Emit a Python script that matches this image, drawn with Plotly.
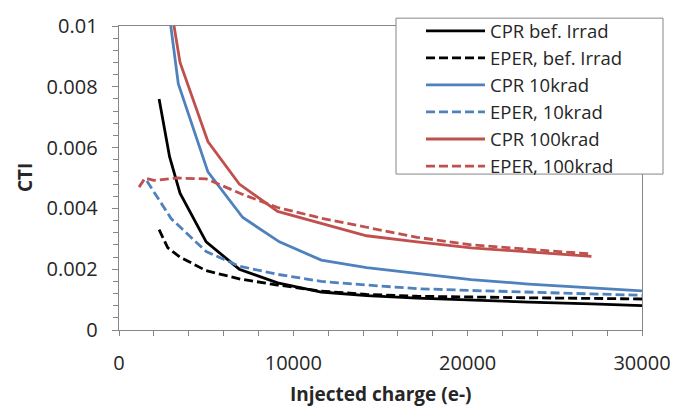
import plotly.graph_objects as go

# ---- data ----
cpr_bef_x = [2300, 2900, 3500, 5000, 6900, 9100, 11600, 14200, 17100, 20200, 23500, 27100, 30000]
cpr_bef_y = [0.0076, 0.0057, 0.0045, 0.0029, 0.0020, 0.00155, 0.00125, 0.00113, 0.00105, 0.00098, 0.00092, 0.00086, 0.00080]

eper_bef_x = [2300, 2800, 3500, 5000, 7000, 9100, 11600, 14200, 17100, 20200, 23500, 27100, 30000]
eper_bef_y = [0.0033, 0.0027, 0.0024, 0.00195, 0.00167, 0.00148, 0.00128, 0.00117, 0.00111, 0.00108, 0.00106, 0.00104, 0.00102]

cpr_10_x = [2700, 3400, 5100, 7100, 9200, 11600, 14200, 17100, 20200, 23500, 27100, 30000]
cpr_10_y = [0.0112, 0.0081, 0.0052, 0.0037, 0.0029, 0.0023, 0.00205, 0.00185, 0.00166, 0.00151, 0.00139, 0.00129]

eper_10_x = [1600, 3000, 5000, 6900, 9100, 11600, 14200, 17100, 20200, 23500, 27100, 30000]
eper_10_y = [0.0049, 0.00366, 0.00258, 0.0021, 0.00183, 0.0016, 0.00148, 0.00136, 0.0013, 0.00125, 0.00118, 0.00114]

cpr_100_x = [2900, 3500, 5100, 6900, 9100, 11600, 14200, 17100, 20200, 23500, 27100]
cpr_100_y = [0.0109, 0.0088, 0.0062, 0.0048, 0.0039, 0.0035, 0.0031, 0.0029, 0.0027, 0.00257, 0.00242]

eper_100_x = [1150, 1500, 2000, 3300, 5000, 7100, 9100, 11600, 14200, 17100, 20200, 23500, 27100]
eper_100_y = [0.0047, 0.0050, 0.00492, 0.0050, 0.00497, 0.00446, 0.00403, 0.00368, 0.00338, 0.00305, 0.0028, 0.00265, 0.0025]

series_names = ["CPR bef. Irrad", "EPER, bef. Irrad", "CPR 10krad",
                "EPER, 10krad", "CPR 100krad", "EPER, 100krad"]

x_title = "Injected charge (e-)"
y_title = "CTI"

x_tick_vals = [0, 10000, 20000, 30000]
x_tick_text = ["0", "10000", "20000", "30000"]
y_tick_vals = [0, 0.002, 0.004, 0.006, 0.008, 0.01]
y_tick_text = ["0", "0.002", "0.004", "0.006", "0.008", "0.01"]

BLACK = "#000000"
BLUE = "#4F81BD"
RED = "#C0504D"
AXIS = "#868686"
TXT = "#262626"
FONT = "Open Sans"
DASH = "9px,4px"
LW = 2.8
NBSP = "\u00a0"

# plot-area geometry (pixels)
L, R, T, B = 119, 47, 20, 77
W, H = 689, 407
PW, PH = W - L - R, H - T - B


def px_to_paper_x(px):
    return (px - L) / PW


def px_to_paper_y(py):
    return (H - B - py) / PH


series = [
    (cpr_bef_x, cpr_bef_y, BLACK, "solid"),
    (eper_bef_x, eper_bef_y, BLACK, DASH),
    (cpr_10_x, cpr_10_y, BLUE, "solid"),
    (eper_10_x, eper_10_y, BLUE, DASH),
    (cpr_100_x, cpr_100_y, RED, "solid"),
    (eper_100_x, eper_100_y, RED, DASH),
]

fig = go.Figure()
for (xs, ys, col, dash), name in zip(series, series_names):
    fig.add_trace(go.Scatter(x=xs, y=ys, name=name, mode="lines",
                             line=dict(color=col, width=LW, dash=dash)))

base_axis = dict(showgrid=False, zeroline=False, showline=True, linecolor=AXIS,
                 linewidth=1, mirror=True, tickwidth=1, automargin=False,
                 tickfont=dict(family=FONT, size=20, color=TXT))

# extra overlay axes only carry the visible major tick marks (crossing ticks)
tick_only = dict(showgrid=False, zeroline=False, showline=False, showticklabels=False,
                 tickmode="array", ticklen=6, tickcolor=AXIS, automargin=False)

# legend frame (white box with grey border), drawn over the plot frame
fig.add_shape(type="rect", xref="paper", yref="paper",
              x0=px_to_paper_x(396), x1=px_to_paper_x(663),
              y0=px_to_paper_y(171), y1=px_to_paper_y(12),
              line=dict(color=AXIS, width=1), fillcolor="white", layer="above")

# axis titles
fig.add_annotation(text="<b>" + x_title + "</b>", xref="paper", yref="paper",
                   x=0.5, y=px_to_paper_y(395), xanchor="center", yanchor="middle",
                   showarrow=False, font=dict(family=FONT, size=19, color=TXT))
fig.add_annotation(text="<b>" + y_title + "</b>", xref="paper", yref="paper",
                   x=px_to_paper_x(25), y=0.5, xanchor="center", yanchor="middle",
                   textangle=-90, showarrow=False, font=dict(family=FONT, size=19, color=TXT))

fig.update_layout(
    width=W, height=H,
    margin=dict(l=L, r=R, t=T, b=B),
    paper_bgcolor="white", plot_bgcolor="white",
    font=dict(family=FONT, color=TXT),
    xaxis=dict(range=[0, 30000], tickmode="array", tickvals=x_tick_vals, ticktext=x_tick_text,
               ticks="outside", ticklen=15, tickcolor="rgba(0,0,0,0)",
               minor=dict(dtick=2000, ticks="outside", ticklen=5, tickcolor=AXIS),
               **base_axis),
    yaxis=dict(range=[0, 0.01], tickmode="array", tickvals=y_tick_vals,
               ticktext=[t + NBSP * 2 for t in y_tick_text],
               ticks="outside", ticklen=6, tickcolor=AXIS,
               minor=dict(dtick=0.0004, ticks="outside", ticklen=5, tickcolor=AXIS),
               **base_axis),
    xaxis2=dict(overlaying="x", anchor="y", range=[0, 30000], ticks="inside",
                tickvals=x_tick_vals, **tick_only),
    xaxis3=dict(overlaying="x", anchor="y", range=[0, 30000], ticks="outside",
                tickvals=x_tick_vals, **tick_only),
    yaxis2=dict(overlaying="y", anchor="x", range=[0, 0.01], ticks="inside",
                tickvals=y_tick_vals, **tick_only),
    legend=dict(x=px_to_paper_x(421), y=px_to_paper_y(6), xanchor="left", yanchor="top",
                bgcolor="rgba(0,0,0,0)", borderwidth=0,
                font=dict(family=FONT, size=18.5, color=TXT),
                itemwidth=59, tracegroupgap=0),
    showlegend=True,
)

fig.write_html("out.html", config={"displayModeBar": False},
               post_script="document.body.style.margin='0';")
